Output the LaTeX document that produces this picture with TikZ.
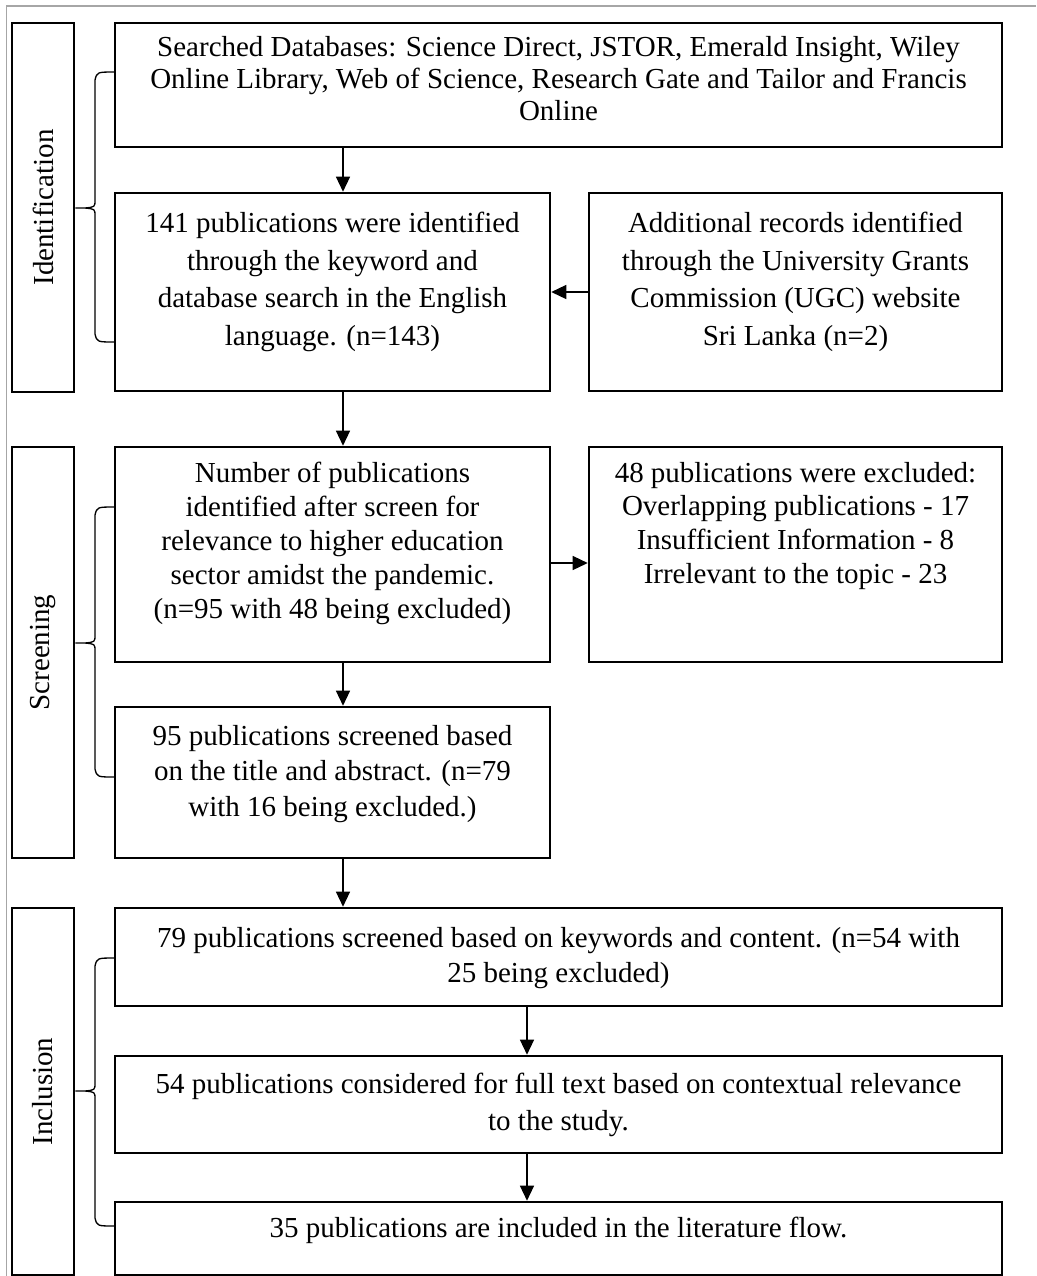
\documentclass[tikz,border=0pt]{standalone}
\usepackage{fontspec}
\setmainfont{Liberation Serif}
\usetikzlibrary{arrows.meta}

\begin{document}
\begin{tikzpicture}[x=0.02cm,y=-0.02cm,
    box/.style n args={3}{draw,line width=1.5pt,inner sep=0pt,minimum width=#1,minimum height=#2,
        execute at begin node={\begin{minipage}[c][#2][t]{#1}\centering\vspace*{#3}},
        execute at end node={\end{minipage}}},
    stage/.style={draw,line width=1.5pt,rotate=90,minimum height=1.24cm,font=\fontsize{16.5}{19}\selectfont},
    line/.style={-{Triangle[length=0.3cm,width=0.28cm]},line width=0.75pt},
    brace/.style={line width=0.75pt}]
    \useasboundingbox (0,0) rectangle (1036,1276);
    \draw[gray!70,line width=0.8pt] (6.5,1276) -- (6.5,6) -- (1036,6);

    \node[stage,minimum width=7.38cm] (ident) at (43,207.5) {Identification};
    \node[stage,minimum width=8.22cm] (screen) at (43,652.5) {Screening};
    \node[stage,minimum width=7.34cm] (incl) at (43,1091.5) {Inclusion};

    \node[box={17.74cm}{2.48cm}{7.8pt},font=\fontsize{16.5}{18.2}\selectfont] (search) at (558.5,85)
        {Searched Databases: Science Direct, JSTOR, Emerald Insight, Wiley\\
         Online Library, Web of Science, Research Gate and Tailor and Francis\\
         Online};
    \node[box={8.7cm}{3.96cm}{10.8pt},font=\fontsize{16.5}{21.4}\selectfont] (found) at (332.5,292)
        {141 publications were identified\\ through the keyword and\\
         database search in the English\\ language. (n=143)};
    \node[box={8.26cm}{3.96cm}{10.8pt},font=\fontsize{16.5}{21.4}\selectfont] (ugc) at (795.5,292)
        {Additional records identified\\ through the University Grants\\
         Commission (UGC) website\\ Sri Lanka (n=2)};
    \node[box={8.7cm}{4.3cm}{8.5pt},font=\fontsize{16.5}{19.3}\selectfont] (relevant) at (332.5,554.5)
        {Number of publications\\ identified after screen for\\
         relevance to higher education\\ sector amidst the pandemic.\\
         (n=95 with 48 being excluded)};
    \node[box={8.26cm}{4.3cm}{8.5pt},font=\fontsize{16.5}{19.3}\selectfont] (excluded) at (795.5,554.5)
        {48 publications were excluded:\\ Overlapping publications - 17\\
         Insufficient Information - 8\\ Irrelevant to the topic - 23};
    \node[box={8.7cm}{3.02cm}{10.2pt},font=\fontsize{16.5}{20.4}\selectfont] (abstract) at (332.5,782.5)
        {95 publications screened based\\ on the title and abstract. (n=79\\
         with 16 being excluded.)};
    \node[box={17.74cm}{1.96cm}{10.8pt},font=\fontsize{16.5}{19.9}\selectfont] (keywords) at (558.5,957)
        {79 publications screened based on keywords and content. (n=54 with\\
         25 being excluded)};
    \node[box={17.74cm}{1.94cm}{9.6pt},font=\fontsize{16.5}{21}\selectfont] (fulltext) at (558.5,1104.5)
        {54 publications considered for full text based on contextual relevance\\
         to the study.};
    \node[box={17.74cm}{1.46cm}{8.5pt},font=\fontsize{16.5}{19.9}\selectfont] (included) at (558.5,1238.5)
        {35 publications are included in the literature flow.};

    % arrow lanes
    \coordinate (spine) at (343,0);
    \coordinate (spinetwo) at (527,0);
    \coordinate (side) at (0,563);

    \draw[line] (search.south -| spine) -- (found.north -| spine);
    \draw[line] (ugc.west) -- (found.east);
    \draw[line] (found.south -| spine) -- (relevant.north -| spine);
    \draw[line] (relevant.east |- side) -- (excluded.west |- side);
    \draw[line] (relevant.south -| spine) -- (abstract.north -| spine);
    \draw[line] (abstract.south -| spine) -- (keywords.north -| spine);
    \draw[line] (keywords.south -| spinetwo) -- (fulltext.north -| spinetwo);
    \draw[line] (fulltext.south -| spinetwo) -- (included.north -| spinetwo);

    % braces
    \draw[brace] (115,72) .. controls (97,72) .. (95,80) -- (95,200) .. controls (95,207) .. (85,208) -- (ident.south |- 0,208)
        (85,208) .. controls (95,209) .. (95,216) -- (95,334) .. controls (97,342) .. (115,342);
    \draw[brace] (115,507) .. controls (97,507) .. (95,515) -- (95,635) .. controls (95,642) .. (85,643) -- (screen.south |- 0,643)
        (85,643) .. controls (95,644) .. (95,651) -- (95,769) .. controls (97,777) .. (115,777);
    \draw[brace] (115,958) .. controls (97,958) .. (95,966) -- (95,1083) .. controls (95,1090) .. (85,1091) -- (incl.south |- 0,1091)
        (85,1091) .. controls (95,1092) .. (95,1099) -- (95,1218) .. controls (97,1226) .. (115,1226);
\end{tikzpicture}
\end{document}
